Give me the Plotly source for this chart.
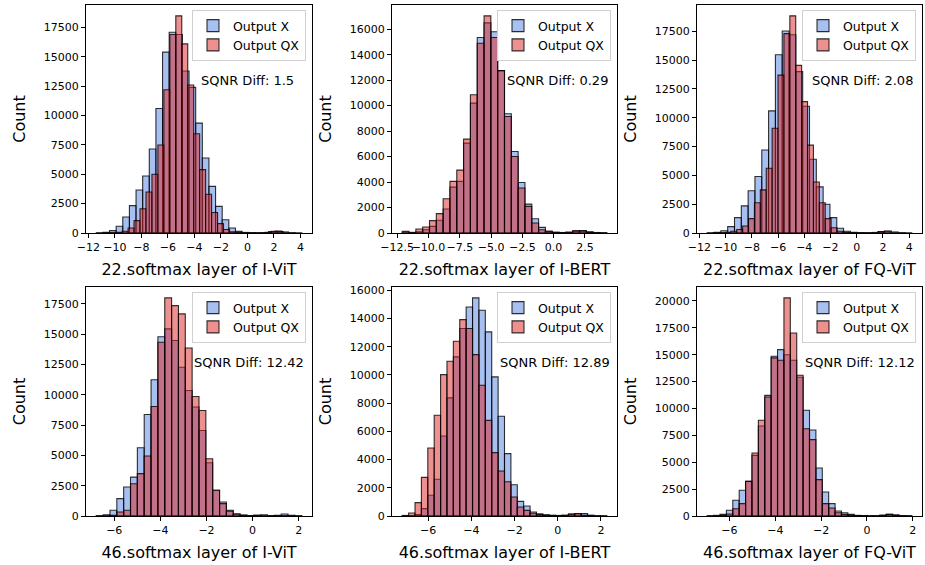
import plotly.graph_objects as go

# ---------------- data ----------------
titles = ["22.softmax layer of I-ViT", "22.softmax layer of I-BERT", "22.softmax layer of FQ-ViT",
          "46.softmax layer of I-ViT", "46.softmax layer of I-BERT", "46.softmax layer of FQ-ViT"]
sqnr_diff = ["1.5", "0.29", "2.08", "12.42", "12.89", "12.12"]
series_names = ["Output X", "Output QX"]

# panel 1: 22.softmax I-ViT
p1_x_start, p1_x_width = -11.4, 0.5
p1_x_counts = [30, 60, 200, 570, 1360, 2330, 3660, 4850, 7150, 10600, 15400, 17100, 16900, 13800, 12400,
               9360, 6380, 3970, 2270, 1130, 425, 140, 50, 30, 20, 30, 120, 170, 90, 40, 20]
p1_qx_start, p1_qx_width = -10.8, 0.45
p1_qx_counts = [20, 30, 60, 150, 425, 1050, 2070, 3490, 5000, 7490, 12200, 16900, 18490, 16100, 12600,
                8450, 5400, 3300, 1750, 800, 300, 110, 40, 20, 20, 20, 20, 60, 150, 120]

# panel 2: 22.softmax I-BERT
p2_x_start, p2_x_width = -12.1, 0.545
p2_x_counts = [20, 20, 100, 260, 520, 1000, 1880, 3600, 4050, 7060, 10200, 15350, 16500, 15800, 12750,
               9360, 6400, 3970, 2270, 1120, 440, 150, 60, 40, 60, 120, 200, 90, 40, 20]
p2_qx_start, p2_qx_width = -12.1, 0.545
p2_qx_counts = [130, 50, 310, 470, 970, 1520, 2690, 4050, 4940, 7370, 10850, 14900, 17050, 15350, 12750,
                9150, 6010, 3530, 2090, 780, 260, 100, 50, 30, 60, 190, 150, 60, 20, 10]

# panel 3: 22.softmax FQ-ViT
p3_x_start, p3_x_width = -11.4, 0.52
p3_x_counts = [30, 60, 190, 550, 1330, 2350, 3660, 4900, 7200, 10600, 15460, 17530, 17200, 14000, 11000,
               6400, 4000, 2500, 1330, 415, 150, 60, 30, 20, 20, 110, 170, 90, 40, 20]
p3_qx_start, p3_qx_width = -10.95, 0.45
p3_qx_counts = [20, 30, 60, 150, 300, 610, 1250, 2630, 3740, 5620, 9090, 13700, 17300, 18840, 14540,
                11400, 7620, 4430, 2630, 1250, 450, 150, 60, 30, 20, 20, 20, 50, 120, 150]

# panel 4: 46.softmax I-ViT
p4_x_start, p4_x_width = -6.78, 0.297
p4_x_counts = [20, 100, 470, 1430, 2390, 3210, 5630, 8380, 11240, 14800, 15440, 14480, 12280, 10360, 9000,
               7060, 4400, 2120, 1150, 470, 180, 80, 40, 30, 20, 20, 60, 160, 60, 20]
p4_qx_start, p4_qx_width = -6.78, 0.297
p4_qx_counts = [10, 20, 60, 330, 470, 2660, 3500, 4950, 9040, 14340, 18000, 17360, 16680, 13870, 9860,
                8710, 4730, 2120, 1020, 400, 150, 60, 30, 80, 100, 40, 20, 30, 20, 10]

# panel 5: 46.softmax I-BERT
p5_x_start, p5_x_width = -7.2, 0.296
p5_x_counts = [10, 30, 100, 520, 1470, 2600, 5670, 8370, 11280, 13290, 14820, 15460, 14590, 13050, 9860,
               7070, 4420, 2220, 1040, 710, 280, 150, 80, 50, 40, 60, 100, 150, 180, 60, 20, 10]
p5_qx_start, p5_qx_width = -7.2, 0.296
p5_qx_counts = [40, 210, 950, 2740, 4820, 7140, 10020, 10970, 12390, 13920, 13290, 11440, 9270, 6780, 4490,
                3190, 2430, 1350, 640, 400, 200, 100, 60, 40, 30, 40, 150, 180, 60, 30, 10, 10]

# panel 6: 46.softmax FQ-ViT
p6_x_start, p6_x_width = -6.97, 0.279
p6_x_counts = [20, 60, 150, 530, 1460, 2390, 3220, 5640, 8370, 11220, 14850, 15470, 15000, 14480, 12900,
               9830, 8000, 4470, 2230, 1150, 465, 300, 150, 60, 40, 30, 30, 80, 150, 100, 40, 20]
p6_qx_start, p6_qx_width = -6.97, 0.279
p6_qx_counts = [10, 20, 60, 190, 680, 1150, 3220, 5860, 8900, 11070, 14700, 14480, 20280, 17020, 13090,
                8120, 7100, 3380, 1150, 740, 300, 150, 80, 40, 30, 20, 20, 60, 150, 80, 20, 10]

# tick values
x_ticks = [
    [-12, -10, -8, -6, -4, -2, 0, 2, 4],
    [-12.5, -10.0, -7.5, -5.0, -2.5, 0.0, 2.5],
    [-12, -10, -8, -6, -4, -2, 0, 2, 4],
    [-6, -4, -2, 0, 2],
    [-6, -4, -2, 0, 2],
    [-6, -4, -2, 0, 2],
]
x_tick_decimals = [0, 1, 0, 0, 0, 0]
y_ticks = [
    [0, 2500, 5000, 7500, 10000, 12500, 15000, 17500],
    [0, 2000, 4000, 6000, 8000, 10000, 12000, 14000, 16000],
    [0, 2500, 5000, 7500, 10000, 12500, 15000, 17500],
    [0, 2500, 5000, 7500, 10000, 12500, 15000, 17500],
    [0, 2000, 4000, 6000, 8000, 10000, 12000, 14000, 16000],
    [0, 2500, 5000, 7500, 10000, 12500, 15000, 17500, 20000],
]

panels = [
    (p1_x_start, p1_x_width, p1_x_counts, p1_qx_start, p1_qx_width, p1_qx_counts),
    (p2_x_start, p2_x_width, p2_x_counts, p2_qx_start, p2_qx_width, p2_qx_counts),
    (p3_x_start, p3_x_width, p3_x_counts, p3_qx_start, p3_qx_width, p3_qx_counts),
    (p4_x_start, p4_x_width, p4_x_counts, p4_qx_start, p4_qx_width, p4_qx_counts),
    (p5_x_start, p5_x_width, p5_x_counts, p5_qx_start, p5_qx_width, p5_qx_counts),
    (p6_x_start, p6_x_width, p6_x_counts, p6_qx_start, p6_qx_width, p6_qx_counts),
]

# ---------------- styling / layout ----------------
W, H = 925, 565
FONT = "DejaVu Sans"
BLUE = "rgba(81,129,225,0.5)"
RED = "rgba(217,33,33,0.5)"
EDGE = "rgba(0,0,0,0.8)"
col_px = [(86, 312), (392, 617), (697, 922)]
row_px = [(5, 233), (287, 516)]
sqnr_xfrac = [0.50, 0.50, 0.50, 0.47, 0.47, 0.47]


def fmt(v, d):
    s = f"{v:.{d}f}"
    return s.replace("-", "\u2212")


fig = go.Figure()
annotations = []
layout_upd = {}

for i, (xs, xw, xc, qs, qw, qc) in enumerate(panels):
    r, c = divmod(i, 3)
    sfx = "" if i == 0 else str(i + 1)
    xa, ya = "x" + sfx, "y" + sfx
    leg = "legend" + sfx

    for start, width, counts, name, color in [(xs, xw, xc, series_names[0], BLUE),
                                               (qs, qw, qc, series_names[1], RED)]:
        centers = [start + width * (k + 0.5) for k in range(len(counts))]
        fig.add_trace(go.Bar(
            x=centers, y=counts, width=width, name=name,
            xaxis=xa, yaxis=ya, legend=leg,
            marker=dict(color=color, line=dict(color=EDGE, width=1.1)),
        ))

    lo = min(xs, qs)
    hi = max(xs + xw * len(xc), qs + qw * len(qc))
    pad = 0.05 * (hi - lo)
    ymax = max(max(xc), max(qc)) * 1.05

    x0, x1 = col_px[c]
    y0, y1 = row_px[r]
    axis_common = dict(
        showline=True, mirror=True, linecolor="black", linewidth=1,
        ticks="outside", ticklen=4, tickwidth=1, tickcolor="black",
        showgrid=False, zeroline=False, automargin=False, tickangle=0,
        tickfont=dict(family=FONT, size=11, color="black"),
    )
    layout_upd["xaxis" + sfx] = dict(
        domain=[x0 / W, x1 / W], anchor=ya, range=[lo - pad, hi + pad],
        tickmode="array", tickvals=x_ticks[i],
        ticktext=[fmt(v, x_tick_decimals[i]) for v in x_ticks[i]],
        title=dict(text=titles[i], font=dict(family=FONT, size=16, color="black"), standoff=10),
        **axis_common,
    )
    layout_upd["yaxis" + sfx] = dict(
        domain=[1 - y1 / H, 1 - y0 / H], anchor=xa, range=[0, ymax],
        tickmode="array", tickvals=y_ticks[i], ticktext=[str(v) for v in y_ticks[i]],
        title=dict(text="Count", font=dict(family=FONT, size=16, color="black"), standoff=14),
        **axis_common,
    )
    layout_upd[leg] = dict(
        x=(x1 - 6) / W, y=1 - (y0 + 5) / H, xanchor="right", yanchor="top",
        bgcolor="rgba(255,255,255,0.85)", bordercolor="#d0d0d0", borderwidth=1,
        font=dict(family=FONT, size=12.5, color="black"), itemwidth=30,
        tracegroupgap=0,
    )
    annotations.append(dict(
        text=f"SQNR Diff: {sqnr_diff[i]}", xref=f"{xa} domain", yref=f"{ya} domain",
        x=sqnr_xfrac[i], y=0.67, xanchor="left", yanchor="middle", showarrow=False,
        font=dict(family=FONT, size=13, color="black"),
    ))

fig.update_layout(
    width=W, height=H, margin=dict(l=0, r=0, t=0, b=0),
    paper_bgcolor="white", plot_bgcolor="white",
    barmode="overlay", showlegend=True,
    font=dict(family=FONT, color="black"),
    annotations=annotations,
    **layout_upd,
)

fig.write_html("out.html", config={"displayModeBar": False},
               post_script="document.body.style.margin='0px';document.body.style.overflow='hidden';")
